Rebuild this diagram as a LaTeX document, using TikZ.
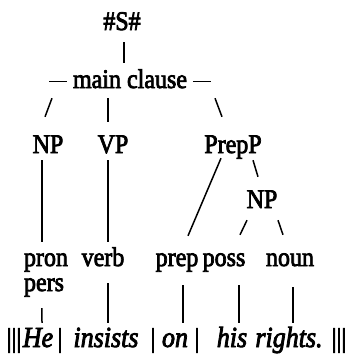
\documentclass[tikz,border=0pt]{standalone}
\usepackage{fontspec}
\setmainfont{Liberation Serif}
\newfontfamily\treefont{Liberation Serif}[FakeBold=3]
\usepackage{tikz}
\usetikzlibrary{calc}

\newcommand{\cdash}{\rule[6pt]{18pt}{1.5pt}}
\newcommand{\tall}[1]{\scalebox{1}[1.12]{#1}}

\begin{document}
\begin{tikzpicture}[x=1pt, y=-1pt,
    lab/.style={inner sep=0, anchor=base, text height=16pt, text depth=5pt,
      font=\treefont\fontsize{24}{28}\selectfont},
    word/.style={lab, font=\treefont\fontsize{26}{30}\selectfont\itshape},
    branch/.style={line width=1.5pt}]
  \useasboundingbox (0,0) rectangle (354,359);
  % top of the tree
  \node[lab] (s) at (122,30) {\tall{\#S\#}};
  \node[lab] (mc) at (130,88) {\cdash\ \tall{main clause} \cdash};
  \node[lab] (np) at (48,153) {\tall{NP}};
  \node[lab] (vp) at (113,153) {\tall{VP}};
  \node[lab] (prepp) at (233,153) {\tall{PrepP}};
  \node[lab] (np2) at (262,208) {\tall{NP}};
  % word classes
  \node[lab] (pron) at (46,266) {\tall{pron}};
  \node[lab, anchor=base west] (pers) at ($ (pron.base west) + (0,25) $) {\tall{pers}};
  \node[lab] (verb) at (103,266) {\tall{verb}};
  \node[lab] (prep) at (177,266) {\tall{prep}};
  \node[lab] (poss) at (224,266) {\tall{poss}};
  \node[lab] (noun) at (290,266) {\tall{noun}};
  % the sentence
  \node[lab] (bl) at (14,347) {\tall{|||}};
  \node[word] (he) at (38,347) {\tall{He}};
  \node[lab] (b1) at (60,347) {\tall{|}};
  \node[word] (insists) at (106,347) {\tall{insists}};
  \node[lab] (b2) at (153,347) {\tall{|}};
  \node[word] (on) at (175,347) {\tall{on}};
  \node[lab] (b3) at (197,347) {\tall{|}};
  \node[word] (his) at (232,347) {\tall{his}};
  \node[word] (rights) at (289,347) {\tall{rights.}};
  \node[lab] (br) at (339,347) {\tall{|||}};

  \draw[branch] ($ (s.south) + (2,7) $) -- ($ (mc.north) + (-6,-9) $);
  \draw[branch] ($ (mc.south) + (-78,5) $) -- ($ (np.north) + (-3,-20) $);
  \draw[branch] ($ (mc.south) + (-22,5) $) -- ($ (vp.north) + (-5,-15) $);
  \draw[branch] ($ (mc.south) + (85,5) $) -- ($ (prepp.north) + (-11,-20) $);
  \draw[branch] ($ (np.south) + (-6,2) $) -- ($ (pron.north) + (-4,-8) $);
  \draw[branch] ($ (vp.south) + (-5,2) $) -- ($ (verb.north) + (5,-8) $);
  \draw[branch] ($ (prepp.south) + (-12,0) $) -- ($ (prep.north) + (11,-14) $);
  \draw[branch] ($ (prepp.south) + (20,2) $) -- ($ (np2.north) + (-4,-15) $);
  \draw[branch] ($ (np2.south) + (-15,7) $) -- ($ (poss.north) + (16,-15) $);
  \draw[branch] ($ (np2.south) + (16,7) $) -- ($ (noun.north) + (-7,-15) $);
  \draw[branch] ($ (pers.south) + (-2,12) $) -- ($ (he.north) + (4,-8) $);
  \draw[branch] ($ (verb.south) + (5,12) $) -- ($ (insists.north) + (2,-8) $);
  \draw[branch] ($ (prep.south) + (6,14) $) -- ($ (on.north) + (8,-8) $);
  \draw[branch] ($ (poss.south) + (15,14) $) -- ($ (his.north) + (7,-8) $);
  \draw[branch] ($ (noun.south) + (3,16) $) -- ($ (rights.north) + (4,-8) $);
\end{tikzpicture}
\end{document}
